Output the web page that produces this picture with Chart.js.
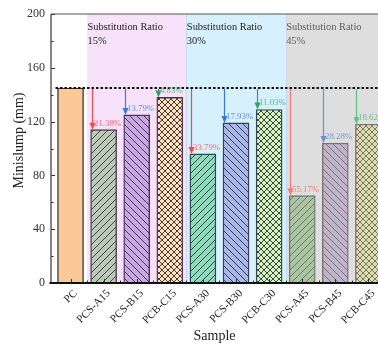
<!DOCTYPE html>
<html>
<head>
<meta charset="utf-8">
<script src="https://cdn.jsdelivr.net/npm/chart.js@4/dist/chart.umd.min.js"></script>
<style>
  html, body { margin: 0; padding: 0; background: #fff; overflow: hidden; }
  #wrap { width: 378px; height: 345px; }
</style>
</head>
<body>
<div id="wrap"><canvas id="c" width="378" height="345"></canvas></div>
<script>
// Minislump of the reference paste and the substituted mixes
const samples = ['PC', 'PCS-A15', 'PCS-B15', 'PCB-C15', 'PCS-A30', 'PCS-B30', 'PCB-C30', 'PCS-A45', 'PCS-B45', 'PCB-C45'];
const minislump = [145, 114, 125, 138, 96, 119, 129, 65, 104, 118];
const yTicks = [0, 40, 80, 120, 160, 200];
// substitution groups: first sample index of each group and its ratio
const groupStart = [1, 4, 7];
const groupRatio = ['15%', '30%', '45%'];
const groupTitle = 'Substitution Ratio';
const yTitle = 'Minislump (mm)';

const SERIF = "'Liberation Serif', 'DejaVu Serif', serif";

// fill / hatch styles per bar
const fills   = ['#fbc898', '#b9ccb3', '#c8a9e2', '#fde4b0', '#8fdbb9', '#a9b6e9', '#dcf1b6', '#a9c6a1', '#c0b4cb', '#dedea6'];
const hatches = [null, '/', '\\', 'x', '/', '\\', 'x', '/', '\\', 'x'];
const inks    = ['#333333', '#4b3d56', '#4a3460', '#4a3550', '#2f4a52', '#2f4258', '#2f4a50', '#767676', '#767676', '#767676'];
const groupBg = ['#f8e2fb', '#d7f0fe', '#dedede'];
const groupText = ['#222222', '#222222', '#606060'];
// arrow colours by mix type A / B / C, full and muted (45% group)
const arrowCol = { A: ['#ff4545', '#f07a7a'], B: ['#2f7de2', '#6d8fd2'], C: ['#2da35c', '#62bd82'] };
const labelCol = { A: ['#ff6a6a', '#f07f7f'], B: ['#5b8fe6', '#7b9ad8'], C: ['#52b87a', '#6fc08c'] };

function makePattern(fill, kind, ink) {
  const s = kind === 'x' ? 6 : 7;
  const c = document.createElement('canvas');
  c.width = s; c.height = s;
  const g = c.getContext('2d');
  g.fillStyle = fill;
  g.fillRect(0, 0, s, s);
  if (!kind) return fill;
  g.strokeStyle = ink;
  g.lineWidth = 1;
  g.beginPath();
  if (kind === '/' || kind === 'x') {
    g.moveTo(-1, s + 1); g.lineTo(s + 1, -1);
    g.moveTo(-1, 1); g.lineTo(1, -1);
    g.moveTo(s - 1, s + 1); g.lineTo(s + 1, s - 1);
  }
  if (kind === '\\' || kind === 'x') {
    g.moveTo(-1, -1); g.lineTo(s + 1, s + 1);
    g.moveTo(s - 1, -1); g.lineTo(s + 1, 1);
    g.moveTo(-1, s - 1); g.lineTo(1, s + 1);
  }
  g.stroke();
  const ctx = document.getElementById('c').getContext('2d');
  return ctx.createPattern(c, 'repeat');
}

const patterns = samples.map((_, i) => makePattern(fills[i], hatches[i], inks[i]));

function groupOf(i) {
  let g = -1;
  groupStart.forEach((s, k) => { if (i >= s) g = k; });
  return g;
}

// shaded substitution groups with their captions
const groupsPlugin = {
  id: 'groups',
  beforeDatasetsDraw(chart) {
    const { ctx, chartArea: a, scales: { x } } = chart;
    ctx.save();
    groupStart.forEach((s, k) => {
      const x0 = x.getPixelForValue(s + 0.5);
      const x1 = k + 1 < groupStart.length ? x.getPixelForValue(groupStart[k + 1] + 0.5) : a.right;
      ctx.fillStyle = groupBg[k];
      ctx.fillRect(x0, a.top, x1 - x0, a.bottom - a.top);
      if (k > 0) {
        ctx.strokeStyle = '#c6d9ef';
        ctx.lineWidth = 1;
        ctx.beginPath();
        ctx.moveTo(Math.round(x0) + 0.5, a.top);
        ctx.lineTo(Math.round(x0) + 0.5, a.bottom);
        ctx.stroke();
      }
      ctx.fillStyle = groupText[k];
      ctx.font = '10.4px ' + SERIF;
      ctx.textAlign = 'left';
      ctx.textBaseline = 'middle';
      ctx.fillText(groupTitle, x0 + 0.5, a.top + 13.5);
      ctx.fillText(groupRatio[k], x0 + 0.5, a.top + 27);
    });
    ctx.restore();
  }
};

// reference level of PC and the drop arrows with their percentages
const dropPlugin = {
  id: 'drops',
  afterDatasetsDraw(chart) {
    const { ctx, chartArea: a, scales: { x, y } } = chart;
    const base = minislump[0];
    const yBase = y.getPixelForValue(base);
    ctx.save();
    ctx.strokeStyle = '#111';
    ctx.lineWidth = 1.8;
    ctx.setLineDash([2.5, 2]);
    ctx.beginPath();
    ctx.moveTo(x.getPixelForValue(1) - 15, yBase);
    ctx.lineTo(a.right, yBase);
    ctx.stroke();
    ctx.setLineDash([]);
    for (let i = 1; i < samples.length; i++) {
      const type = samples[i].charAt(samples[i].indexOf('-') + 1);
      const muted = groupOf(i) === 2 ? 1 : 0;
      const xa = Math.round(x.getPixelForValue(i + 1) - 12) + 0.5;
      const yt = y.getPixelForValue(minislump[i]);
      ctx.strokeStyle = arrowCol[type][muted];
      ctx.fillStyle = arrowCol[type][muted];
      ctx.lineWidth = 1.2;
      ctx.beginPath();
      ctx.moveTo(xa, yBase + 1);
      ctx.lineTo(xa, yt - 5);
      ctx.stroke();
      ctx.beginPath();
      ctx.moveTo(xa - 3, yt - 7);
      ctx.lineTo(xa + 3, yt - 7);
      ctx.lineTo(xa, yt);
      ctx.closePath();
      ctx.fill();
      const pct = ((base - minislump[i]) / base * 100).toFixed(2) + '%';
      ctx.fillStyle = labelCol[type][muted];
      ctx.font = '8.8px ' + SERIF;
      ctx.textAlign = 'left';
      ctx.textBaseline = 'alphabetic';
      ctx.fillText(pct, xa + 1.5, yt - 4);
    }
    ctx.restore();
  }
};

// frame lines, inward tick marks and the value-axis title
const framePlugin = {
  id: 'frame',
  afterDraw(chart) {
    const { ctx, chartArea: a, scales: { x, y } } = chart;
    ctx.save();
    ctx.strokeStyle = '#333';
    ctx.lineWidth = 1;
    ctx.beginPath();
    yTicks.forEach((v, k) => {
      const py = Math.round(y.getPixelForValue(v)) + 0.5;
      ctx.moveTo(a.left, py); ctx.lineTo(a.left + 4, py);
      if (k + 1 < yTicks.length) {
        const pm = Math.round(y.getPixelForValue((v + yTicks[k + 1]) / 2)) + 0.5;
        ctx.moveTo(a.left, pm); ctx.lineTo(a.left + 2.5, pm);
      }
    });
    samples.forEach((_, i) => {
      const px = Math.round(x.getPixelForValue(i + 1)) + 0.5;
      ctx.moveTo(px, a.bottom); ctx.lineTo(px, a.bottom - 4);
      const pm = Math.round(x.getPixelForValue(i + 1.5)) + 0.5;
      ctx.moveTo(pm, a.bottom); ctx.lineTo(pm, a.bottom - 2.5);
    });
    ctx.stroke();
    // left axis
    ctx.strokeStyle = '#444';
    ctx.lineWidth = 1.3;
    ctx.beginPath();
    ctx.moveTo(a.left, a.top);
    ctx.lineTo(a.left, a.bottom);
    ctx.stroke();
    // top frame
    ctx.strokeStyle = '#555';
    ctx.lineWidth = 1.2;
    ctx.beginPath();
    ctx.moveTo(a.left, a.top);
    ctx.lineTo(a.right, a.top);
    ctx.stroke();
    // bottom axis
    ctx.strokeStyle = '#111';
    ctx.lineWidth = 2;
    ctx.beginPath();
    ctx.moveTo(a.left - 1.5, a.bottom);
    ctx.lineTo(a.right, a.bottom);
    ctx.stroke();
    // value-axis title, set slightly above the axis middle
    ctx.translate(19, (a.top + a.bottom) / 2 - 8);
    ctx.rotate(-Math.PI / 2);
    ctx.fillStyle = '#222';
    ctx.font = '14px ' + SERIF;
    ctx.textAlign = 'center';
    ctx.textBaseline = 'middle';
    ctx.fillText(yTitle, 0, 0);
    ctx.restore();
  }
};

new Chart(document.getElementById('c'), {
  type: 'bar',
  data: {
    datasets: [{
      data: samples.map((_, i) => ({ x: i + 1, y: minislump[i] })),
      backgroundColor: patterns,
      borderColor: inks,
      borderWidth: 1.4,
      barThickness: 26,
      borderSkipped: 'bottom'
    }]
  },
  options: {
    responsive: false,
    animation: false,
    layout: { padding: { top: 14, right: 0, left: 0, bottom: 0 } },
    plugins: { legend: { display: false }, tooltip: { enabled: false } },
    scales: {
      x: {
        type: 'linear',
        min: 0.41,
        max: 10.29,
        offset: false,
        grid: { display: false, drawTicks: false },
        border: { display: false },
        afterBuildTicks: s => { s.ticks = samples.map((_, i) => ({ value: i + 1 })); },
        ticks: {
          autoSkip: false,
          minRotation: 45,
          maxRotation: 45,
          padding: 4,
          labelOffset: 5,
          color: '#222',
          font: { family: SERIF, size: 11 },
          callback: v => samples[v - 1]
        },
        title: {
          display: true,
          text: 'Sample',
          color: '#222',
          font: { family: SERIF, size: 14 },
          padding: { top: 0, bottom: 0 }
        },
        afterFit: s => { s.height = 62; s.paddingLeft = 0; s.paddingRight = 0; }
      },
      y: {
        min: 0,
        max: 200,
        grid: { display: false, drawTicks: false },
        border: { display: false },
        afterBuildTicks: s => { s.ticks = yTicks.map(v => ({ value: v })); },
        ticks: { padding: 6, color: '#333', font: { family: SERIF, size: 12 } },
        afterFit: s => { s.width = 51; s.paddingTop = 0; s.paddingBottom = 0; }
      }
    }
  },
  plugins: [groupsPlugin, dropPlugin, framePlugin]
});
</script>
</body>
</html>
